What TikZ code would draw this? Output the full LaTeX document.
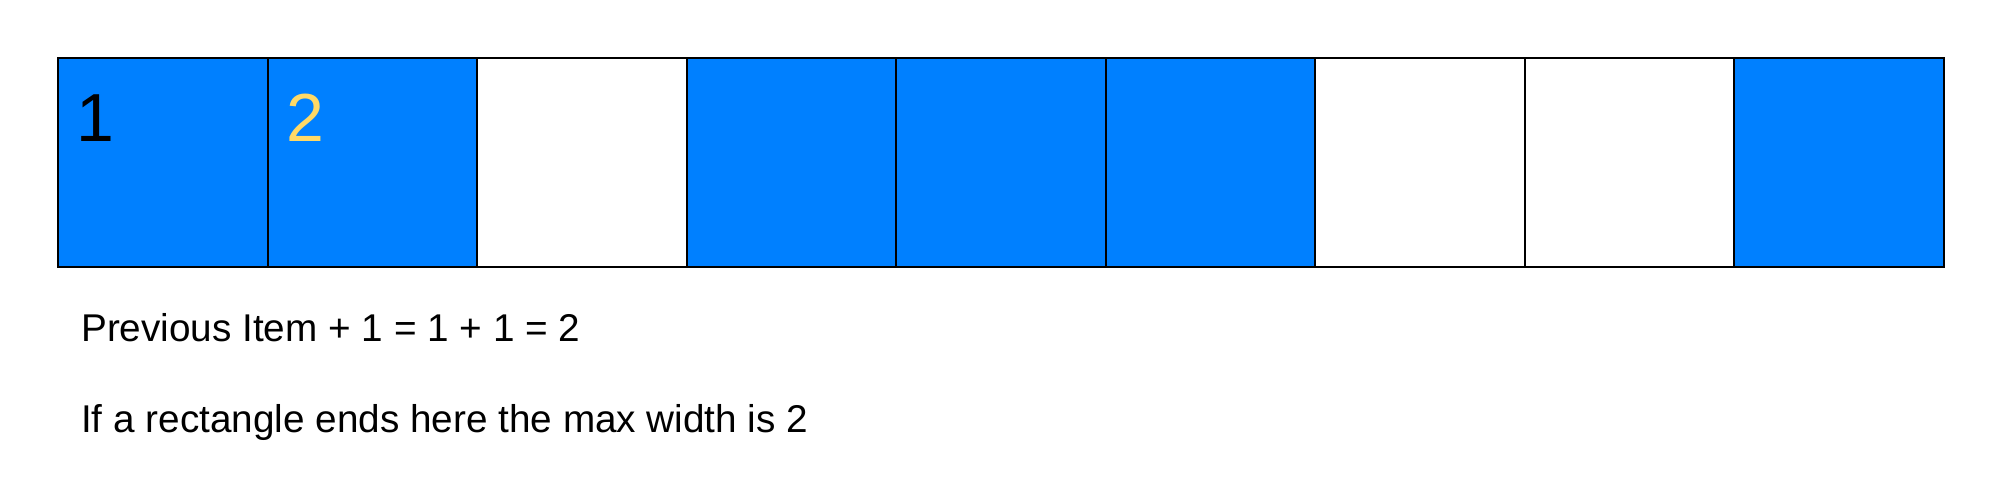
\documentclass[tikz,border=0pt]{standalone}
\usepackage{fontspec}
\setmainfont{Liberation Sans}
\definecolor{cellblue}{RGB}{0,128,255}
\definecolor{numyellow}{RGB}{255,217,102}
\begin{document}
\begin{tikzpicture}[x=1pt,y=-1pt,
  cell/.style={draw=black,line width=2pt,rectangle,minimum width=209.5pt,minimum height=209pt,inner sep=0pt,anchor=north west},
  full/.style={cell,fill=cellblue},
  empty/.style={cell,fill=white},
  num/.style={anchor=base west,inner sep=0pt,font=\fontsize{68}{68}\selectfont},
  caption/.style={anchor=base west,inner sep=0pt,font=\fontsize{38.7}{40}\selectfont}]
\useasboundingbox (0,0) rectangle (2000,500);
\foreach \i/\s in {1/full,2/full,3/empty,4/full,5/full,6/full,7/empty,8/empty,9/full}{
  \node[\s] (c\i) at ({57+(\i-1)*209.5},57) {};
}
\node[num,text=black] (n1) at (76,142) {1};
\node[num,text=numyellow] (n2) at (286,142) {2};
\node[caption] (t1) at (81,341) {Previous Item + 1 = 1 + 1 = 2};
\node[caption] (t2) at (81,432) {If a rectangle ends here the max width is 2};
\end{tikzpicture}
\end{document}
